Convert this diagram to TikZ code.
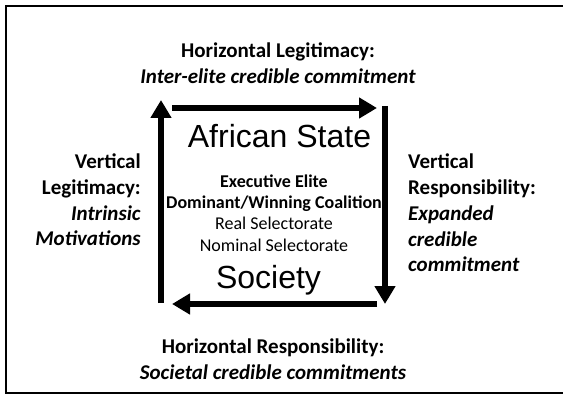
\documentclass[tikz,border=0pt]{standalone}
\usepackage{fontspec}
\setmainfont{Carlito}
\newfontfamily\arialfont{Liberation Sans}
\usetikzlibrary{arrows.meta}
\tikzstyle{flow}=[line width=6pt, -{Triangle[length=18pt,width=20pt]}]
\tikzstyle{side}=[inner sep=0pt, font=\fontsize{21}{25.7}\selectfont]
\tikzstyle{tier}=[inner sep=0pt, align=center, font=\fontsize{18}{21.3}\selectfont]
\tikzstyle{actor}=[inner sep=0pt, anchor=base, font=\arialfont\fontsize{32}{36}\selectfont]

\begin{document}
\begin{tikzpicture}[x=1pt, y=-1pt]
        \useasboundingbox (0,0) rectangle (563,396);
        % open frame, its right side runs off the page
        \draw[line width=2pt] (563,5.7) -- (5.5,5.7) -- (5.5,393) -- (563,393);
        % corners of the cycle
        \coordinate (lowL) at (161,303);
        \coordinate (upL) at (161,100);
        \coordinate (topA) at (172,108);
        \coordinate (topB) at (377,108);
        \coordinate (rightA) at (385,106);
        \coordinate (rightB) at (385,304);
        \coordinate (botA) at (377,304);
        \coordinate (botB) at (172,304);
        \draw[flow] (lowL) -- (upL);
        \draw[flow] (topA) -- (topB);
        \draw[flow] (rightA) -- (rightB);
        \draw[flow] (botA) -- (botB);
        % the two actors and the layers between them
        \node[actor] (state) at (279.5,147) {African State};
        \node[actor] (society) at (268.5,288) {Society};
        \node[tier] (layers) at (274,213) {\textbf{Executive Elite}\\
            \textbf{Dominant/Winning Coalition}\\
            Real Selectorate\\
            Nominal Selectorate};
        % labels round the cycle
        \node[side, align=center] (hlegit) at (278,63) {\textbf{Horizontal Legitimacy:}\\
            \textbf{\textit{Inter-elite credible commitment}}};
        \node[side, align=right, anchor=east] (vlegit) at (141,200) {\textbf{Vertical}\\
            \textbf{Legitimacy:}\\
            \textbf{\textit{Intrinsic}}\\
            \textbf{\textit{Motivations}}};
        \node[side, align=left, anchor=west] (vresp) at (408,213) {\textbf{Vertical}\\
            \textbf{Responsibility:}\\
            \textbf{\textit{Expanded}}\\
            \textbf{\textit{credible}}\\
            \textbf{\textit{commitment}}};
        \node[side, align=center] (hresp) at (273,359) {\textbf{Horizontal Responsibility:}\\
            \textbf{\textit{Societal credible commitments}}};
    \end{tikzpicture}
\end{document}
